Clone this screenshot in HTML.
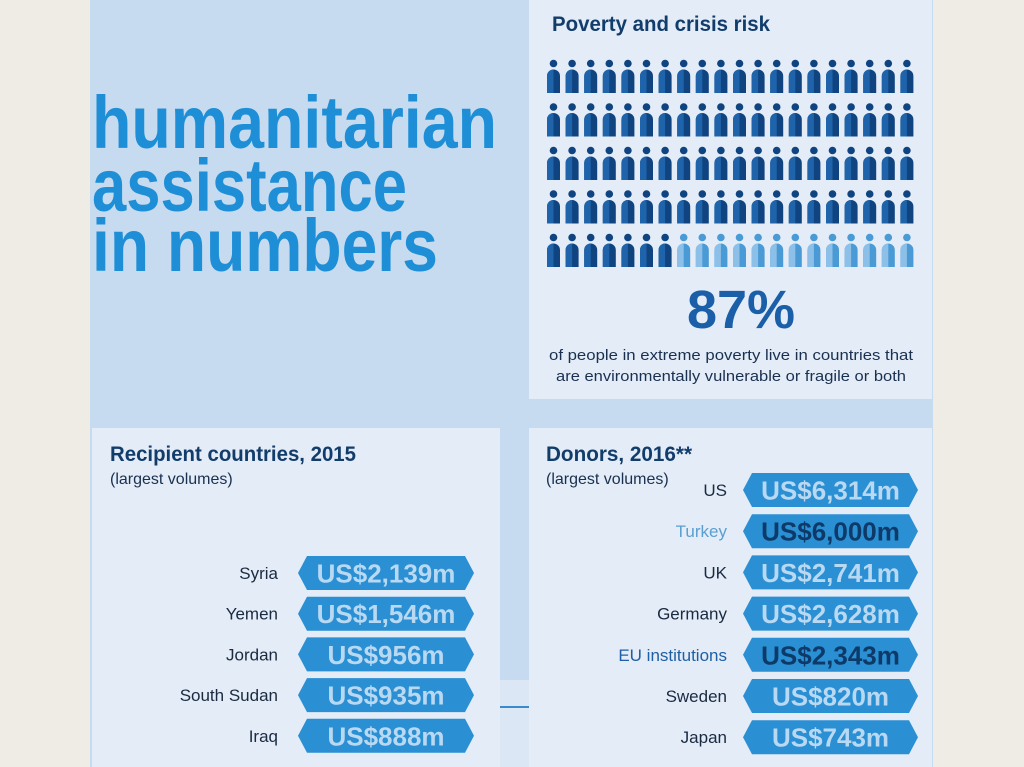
<!DOCTYPE html>
<html><head><meta charset="utf-8"><style>
html,body{margin:0;padding:0;background:#efece5;}
svg{display:block;font-family:"Liberation Sans",sans-serif;}
</style></head><body>
<svg id="s" width="1024" height="767" viewBox="0 0 1024 767" xmlns="http://www.w3.org/2000/svg">
<rect x="0" y="0" width="1024" height="767" fill="#efece5"/>
<rect x="90" y="0" width="843" height="767" fill="#c6dbf0"/>
<rect x="529" y="0" width="403" height="399" fill="#e3ecf7"/>
<rect x="92" y="428" width="408" height="339" fill="#e3ecf7"/>
<rect x="529" y="428" width="403" height="339" fill="#e3ecf7"/>
<rect x="500" y="680" width="29" height="87" fill="#dbe7f5"/>
<line x1="500" y1="707" x2="529" y2="707" stroke="#3a8ad0" stroke-width="2"/>

<g fill="#1e8fd6" font-weight="bold" font-size="74">
<text x="92" y="148" textLength="405" lengthAdjust="spacingAndGlyphs">humanitarian</text>
<text x="92" y="211" textLength="315" lengthAdjust="spacingAndGlyphs">assistance</text>
<text x="92" y="271" textLength="346" lengthAdjust="spacingAndGlyphs">in numbers</text>
</g>

<text x="552" y="31" font-size="21" font-weight="bold" fill="#123d6b" textLength="218" lengthAdjust="spacingAndGlyphs">Poverty and crisis risk</text>
<g id="icons"></g>
<text x="741" y="328" text-anchor="middle" font-size="54" font-weight="bold" fill="#1a5fa8">87%</text>
<text x="731" y="360" text-anchor="middle" font-size="15" fill="#1a3050" textLength="364" lengthAdjust="spacingAndGlyphs">of people in extreme poverty live in countries that</text>
<text x="731" y="381" text-anchor="middle" font-size="15" fill="#1a3050" textLength="350" lengthAdjust="spacingAndGlyphs">are environmentally vulnerable or fragile or both</text>

<text x="110" y="461" font-size="21" font-weight="bold" fill="#123d6b" textLength="246" lengthAdjust="spacingAndGlyphs">Recipient countries, 2015</text>
<text x="110" y="484" font-size="16" fill="#1a3050">(largest volumes)</text>
<text x="546" y="461" font-size="21" font-weight="bold" fill="#123d6b" textLength="146" lengthAdjust="spacingAndGlyphs">Donors, 2016**</text>
<text x="546" y="484" font-size="16" fill="#1a3050">(largest volumes)</text>
<g id="hex"></g>
</svg>
<script>
var ic=document.getElementById("icons");
var h="";
for(var r=0;r<5;r++){for(var c=0;c<20;c++){
 var x=547+c*18.6, y=60+r*43.5;
 var light=(r==4&&c>=7);
 var d=light?"#4a9ad6":"#0f4480", l=light?"#8cc0e8":"#1f64aa";
 h+='<circle cx="'+(x+6.5)+'" cy="'+(y+3.5)+'" r="3.8" fill="'+d+'"/>';
 h+='<path d="M'+x+' '+(y+33)+'V'+(y+16)+'a6.5 6.5 0 0 1 13 0V'+(y+33)+'Z" fill="'+d+'"/>';
 h+='<path d="M'+x+' '+(y+33)+'V'+(y+16)+'a6.5 6.5 0 0 1 6.5 -6.5V'+(y+33)+'Z" fill="'+l+'"/>';
}}
ic.innerHTML=h;
var hx=document.getElementById("hex");
function hexr(x,yc,w,label,val,lc,vc,lx){
 var t=yc-17,b=yc+17;
 var s='<path d="M'+(x+9)+' '+t+'H'+(x+w-9)+'L'+(x+w)+' '+yc+'L'+(x+w-9)+' '+b+'H'+(x+9)+'L'+x+' '+yc+'Z" fill="#2a8fd3"/>';
 s+='<text x="'+(x+w/2)+'" y="'+(yc+9.5)+'" text-anchor="middle" font-size="26" font-weight="bold" fill="'+vc+'">'+val+'</text>';
 s+='<text x="'+lx+'" y="'+(yc+6)+'" text-anchor="end" font-size="17" fill="'+lc+'">'+label+'</text>';
 return s;
}
var s="",L="#b9d9f3",D="#0d3a68",T="#1a2a40";
var a=[["Syria","US$2,139m"],["Yemen","US$1,546m"],["Jordan","US$956m"],["South Sudan","US$935m"],["Iraq","US$888m"]];
for(var i=0;i<5;i++)s+=hexr(298,573+i*40.7,176,a[i][0],a[i][1],T,L,278);
var b=[["US","US$6,314m",T,L],["Turkey","US$6,000m","#5a9fd2",D],["UK","US$2,741m",T,L],["Germany","US$2,628m",T,L],["EU institutions","US$2,343m","#1f5fa5",D],["Sweden","US$820m",T,L],["Japan","US$743m",T,L]];
for(var i=0;i<7;i++)s+=hexr(743,490+i*41.2,175,b[i][0],b[i][1],b[i][2],b[i][3],727);
hx.innerHTML=s;
</script>
</body></html>
